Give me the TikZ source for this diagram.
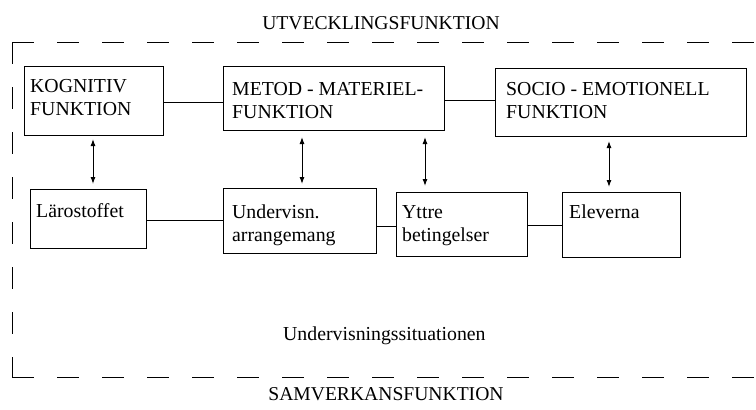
\documentclass[tikz,border=0pt]{standalone}
\usepackage{fontspec}
\setmainfont{Liberation Serif}
\usetikzlibrary{arrows.meta}
\begin{document}
\begin{tikzpicture}[x=1pt,y=-1pt,
  box/.style={draw,line width=1.2pt,anchor=north west,inner sep=0pt},
  txt/.style={anchor=base west,inner sep=0pt,align=left,font=\fontsize{19.8}{22.8}\selectfont},
  ctxt/.style={anchor=base,inner sep=0pt,font=\fontsize{19.6}{22.5}\selectfont},
  link/.style={line width=1pt},
  biarrow/.style={line width=1pt,{Latex[length=7pt,width=5pt]}-{Latex[length=7pt,width=5pt]}},
  frame/.style={line width=0.8pt,dash pattern=on 22pt off 23pt}]
\useasboundingbox (0,0) rectangle (756,410);
% frame
\coordinate (tl) at (12,42);
\coordinate (bl) at (12,377);
\coordinate (tr) at (756,42);
\coordinate (br) at (756,377);
\draw[frame] (tl) -- (tr);
\draw[frame] (tl) -- (bl);
\draw[frame] (bl) -- (br);
% titles
\node[ctxt] (top) at (381,29.5) {UTVECKLINGSFUNKTION};
\node[ctxt] (bot) at (386,400) {SAMVERKANSFUNKTION};
\node[txt] (situ) at (283,340) {Undervisningssituationen};
% upper boxes
\node[box,minimum width=139pt,minimum height=69pt] (kog) at (24,66) {};
\node[box,minimum width=221pt,minimum height=64pt] (met) at (223,66) {};
\node[box,minimum width=251pt,minimum height=68pt] (soc) at (495,68) {};
\node[txt] (kogt) at (30,115.5) {KOGNITIV\\FUNKTION};
\node[txt] (mett) at (232,118) {METOD - MATERIEL-\\FUNKTION};
\node[txt] (soct) at (506,118) {SOCIO - EMOTIONELL\\FUNKTION};
% lower boxes
\node[box,minimum width=116pt,minimum height=59pt] (lar) at (30,189) {};
\node[box,minimum width=153pt,minimum height=65pt] (und) at (223,188) {};
\node[box,minimum width=131pt,minimum height=64pt] (ytt) at (396,192) {};
\node[box,minimum width=118pt,minimum height=65pt] (ele) at (562,192) {};
\node[txt] (lart) at (36,217) {Lärostoffet};
\node[txt] (undt) at (232,241.5) {Undervisn.\\arrangemang};
\node[txt] (yttt) at (402,241) {Yttre\\betingelser};
\node[txt] (elet) at (569,218) {Eleverna};
% horizontal links
\draw[link] (kog.east |- 0,102) -- (met.west |- 0,102);
\draw[link] (met.east |- 0,100) -- (soc.west |- 0,100);
\draw[link] (lar.east |- 0,220) -- (und.west |- 0,220);
\draw[link] (und.east |- 0,226) -- (ytt.west |- 0,226);
\draw[link] (ytt.east |- 0,225) -- (ele.west |- 0,225);
% vertical arrows
\coordinate (a1t) at (93,139);  \coordinate (a1b) at (93,184);
\coordinate (a2t) at (302,137); \coordinate (a2b) at (302,184);
\coordinate (a3t) at (425,137); \coordinate (a3b) at (425,186);
\coordinate (a4t) at (609,141); \coordinate (a4b) at (609,187);
\draw[biarrow] (a1t) -- (a1b);
\draw[biarrow] (a2t) -- (a2b);
\draw[biarrow] (a3t) -- (a3b);
\draw[biarrow] (a4t) -- (a4b);
\end{tikzpicture}
\end{document}
